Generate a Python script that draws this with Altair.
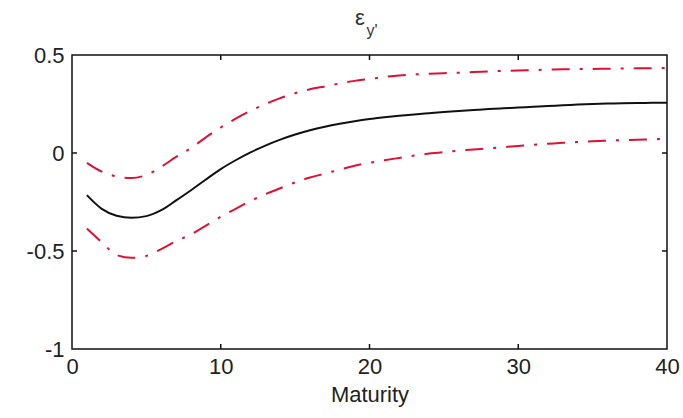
import altair as alt
import pandas as pd

maturity = list(range(1, 41))
estimate = [-0.215, -0.285, -0.320, -0.330, -0.322, -0.292, -0.242, -0.190, -0.135, -0.082,
            -0.037, 0.003, 0.038, 0.068, 0.094, 0.116, 0.134, 0.149, 0.162, 0.173,
            0.182, 0.190, 0.197, 0.203, 0.209, 0.214, 0.219, 0.224, 0.228, 0.232,
            0.236, 0.240, 0.243, 0.247, 0.250, 0.252, 0.254, 0.255, 0.256, 0.257]
upper = [-0.050, -0.095, -0.120, -0.128, -0.112, -0.070, -0.020, 0.025, 0.080, 0.130,
         0.175, 0.215, 0.250, 0.280, 0.305, 0.325, 0.340, 0.355, 0.368, 0.378,
         0.388, 0.396, 0.401, 0.404, 0.407, 0.410, 0.413, 0.416, 0.419, 0.421,
         0.423, 0.425, 0.427, 0.428, 0.429, 0.430, 0.431, 0.432, 0.433, 0.434]
lower = [-0.385, -0.455, -0.520, -0.535, -0.525, -0.490, -0.450, -0.415, -0.370, -0.325,
         -0.285, -0.245, -0.210, -0.180, -0.150, -0.125, -0.105, -0.085, -0.065, -0.050,
         -0.037, -0.025, -0.013, -0.003, 0.005, 0.012, 0.018, 0.024, 0.030, 0.036,
         0.042, 0.047, 0.052, 0.056, 0.060, 0.063, 0.066, 0.068, 0.070, 0.072]

x_ticks = [0, 10, 20, 30, 40]
y_ticks = [-1, -0.5, 0, 0.5]
x_inner_ticks = [10, 20, 30]
y_inner_ticks = [-0.5, 0]

W, H = 595, 294
FONT = "Liberation Sans"
TXT = "#222222"

est_df = pd.DataFrame({"Maturity": maturity, "value": estimate})
band_df = pd.concat([
    pd.DataFrame({"Maturity": maturity, "value": upper, "band": "upper"}),
    pd.DataFrame({"Maturity": maturity, "value": lower, "band": "lower"}),
])

xscale = alt.Scale(domain=[0, 40], nice=False, zero=False)
yscale = alt.Scale(domain=[-1, 0.5], nice=False, zero=False)

xaxis = alt.Axis(values=x_ticks, ticks=False, domain=False, grid=False,
                 labelFont=FONT, labelFontSize=22, labelColor=TXT, labelPadding=7,
                 title="Maturity", titleFont=FONT, titleFontSize=22, titleFontWeight="normal",
                 titleColor=TXT, titlePadding=7, labelFlush=False)
yaxis = alt.Axis(values=y_ticks, ticks=False, domain=False, grid=False,
                 labelFont=FONT, labelFontSize=22, labelColor=TXT, labelPadding=8,
                 labelExpr="'' + datum.value", title=None, labelFlush=False)

est_line = alt.Chart(est_df).mark_line(color="#111111", strokeWidth=2,
                                       interpolate="monotone").encode(
    x=alt.X("Maturity:Q", scale=xscale, axis=xaxis),
    y=alt.Y("value:Q", scale=yscale, axis=yaxis),
)

band_lines = alt.Chart(band_df).mark_line(color="#dd1133", strokeWidth=2,
                                           interpolate="monotone",
                                           strokeDash=[18, 10, 3, 10]).encode(
    x=alt.X("Maturity:Q", scale=xscale),
    y=alt.Y("value:Q", scale=yscale),
    detail="band:N",
)

xt_df = pd.DataFrame({"t": x_inner_ticks})
yt_df = pd.DataFrame({"t": y_inner_ticks})

bottom_ticks = alt.Chart(xt_df).mark_rule(color="#111111", strokeWidth=1.5).encode(
    x=alt.X("t:Q", scale=xscale), y=alt.value(H), y2=alt.value(H - 5))
top_ticks = alt.Chart(xt_df).mark_rule(color="#111111", strokeWidth=1.5).encode(
    x=alt.X("t:Q", scale=xscale), y=alt.value(0), y2=alt.value(5))
left_ticks = alt.Chart(yt_df).mark_rule(color="#111111", strokeWidth=1.5).encode(
    y=alt.Y("t:Q", scale=yscale), x=alt.value(0), x2=alt.value(5))
right_ticks = alt.Chart(yt_df).mark_rule(color="#111111", strokeWidth=1.5).encode(
    y=alt.Y("t:Q", scale=yscale), x=alt.value(W), x2=alt.value(W - 5))

one = alt.Data(values=[{"k": 1}])
title_eps = alt.Chart(one).mark_text(font=FONT, fontSize=22, color="#333333",
                                     align="center", baseline="alphabetic").encode(
    x=alt.value(288), y=alt.value(-30), text=alt.value("ε"))
title_sub = alt.Chart(one).mark_text(font=FONT, fontSize=16, color="#333333",
                                     align="center", baseline="alphabetic").encode(
    x=alt.value(300), y=alt.value(-19), text=alt.value("y'"))

chart = alt.layer(
    band_lines, est_line, bottom_ticks, top_ticks, left_ticks, right_ticks,
    title_eps, title_sub,
).properties(
    width=W, height=H,
    autosize=alt.AutoSizeParams(type="none"),
    padding={"left": 72, "top": 55, "right": 16, "bottom": 69},
    background="white",
).configure_view(
    stroke="#111111", strokeWidth=1.5,
)

chart.save("out.html", embed_options={"renderer": "svg", "actions": False})
